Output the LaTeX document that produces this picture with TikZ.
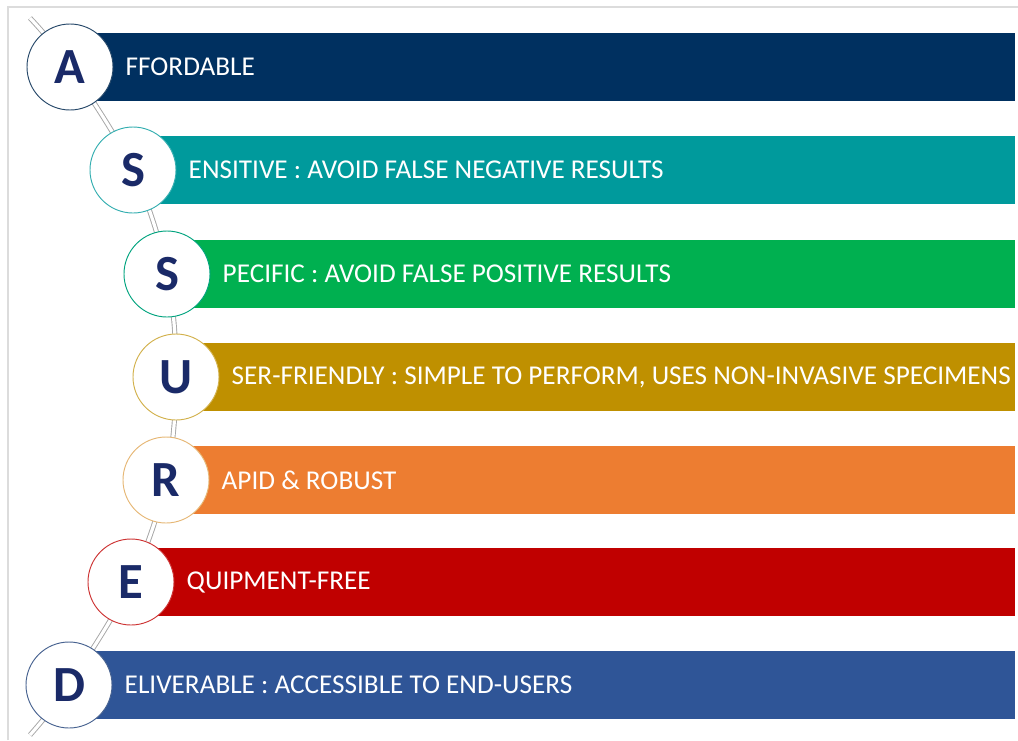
\documentclass[tikz,border=0pt]{standalone}
\usepackage{fontspec}
\setmainfont{Carlito}
\usetikzlibrary{positioning}

\definecolor{colA}{HTML}{003060}
\definecolor{colS}{HTML}{009A9C}
\definecolor{colP}{HTML}{00B050}
\definecolor{colU}{HTML}{BF9000}
\definecolor{colR}{HTML}{ED7D31}
\definecolor{colE}{HTML}{C00000}
\definecolor{colD}{HTML}{2F5597}
\definecolor{letterblue}{HTML}{1A2A68}
\definecolor{framegray}{HTML}{DCDCDC}

\begin{document}
\begin{tikzpicture}[x=0.75pt, y=-0.75pt,
        bar/.style={rectangle, anchor=west, minimum height=51pt, inner sep=0pt},
        letter/.style={circle, draw, fill=white, line width=0.7pt, minimum size=64.5pt, inner sep=0pt, text=letterblue, font=\fontsize{38}{38}\selectfont\bfseries},
        lbl/.style={inner sep=0pt, text=white, font=\fontsize{20.4}{24}\selectfont},
        spine/.style={draw=gray!70, double=white, line width=0.7pt, double distance=2.4pt}
    ]
        \useasboundingbox (0,0) rectangle (1018,740);
        \draw[framegray, line width=1.2pt] (8,740) -- (8,7) -- (1018,7);

        % centres of the letter circles
        \coordinate (pA) at (70,67);
        \coordinate (pS1) at (133,170);
        \coordinate (pS2) at (167,274);
        \coordinate (pU) at (176,377);
        \coordinate (pR) at (166,480);
        \coordinate (pE) at (131,582);
        \coordinate (pD) at (69,685);
        \coordinate (spineTop) at (30,18);
        \coordinate (spineEnd) at (30,735);

        % coloured bars
        \node[bar, fill=colA, minimum width=708.75pt] (barA) at (pA) {};
        \node[bar, fill=colS, minimum width=661.5pt] (barS1) at (pS1) {};
        \node[bar, fill=colP, minimum width=636pt] (barS2) at (pS2) {};
        \node[bar, fill=colU, minimum width=629.25pt] (barU) at (pU) {};
        \node[bar, fill=colR, minimum width=636.75pt] (barR) at (pR) {};
        \node[bar, fill=colE, minimum width=663pt] (barE) at (pE) {};
        \node[bar, fill=colD, minimum width=709.5pt] (barD) at (pD) {};

        \draw[spine] plot[smooth, tension=0.6] coordinates {(spineTop) (pA) (pS1) (pS2) (pU) (pR) (pE) (pD) (spineEnd)};

        % letters
        \node[letter, draw=colA!70!gray] (cA) at (pA) {A};
        \node[letter, draw=colS!80] (cS1) at (pS1) {S};
        \node[letter, draw=colS!60!colP] (cS2) at (pS2) {S};
        \node[letter, draw=colU!70] (cU) at (pU) {U};
        \node[letter, draw=colR!50!colU!60] (cR) at (pR) {R};
        \node[letter, draw=colE!80] (cE) at (pE) {E};
        \node[letter, draw=colD!70!gray] (cD) at (pD) {D};

        % texts
        \node[lbl, right=9pt of cA] (tA) {FFORDABLE};
        \node[lbl, right=9pt of cS1] (tS1) {ENSITIVE : AVOID FALSE NEGATIVE RESULTS};
        \node[lbl, right=9pt of cS2] (tS2) {PECIFIC : AVOID FALSE POSITIVE RESULTS};
        \node[lbl, right=9pt of cU] (tU) {SER-FRIENDLY : SIMPLE TO PERFORM, USES NON-INVASIVE SPECIMENS};
        \node[lbl, right=9pt of cR] (tR) {APID \& ROBUST};
        \node[lbl, right=9pt of cE] (tE) {QUIPMENT-FREE};
        \node[lbl, right=9pt of cD] (tD) {ELIVERABLE : ACCESSIBLE TO END-USERS};
    \end{tikzpicture}
\end{document}
